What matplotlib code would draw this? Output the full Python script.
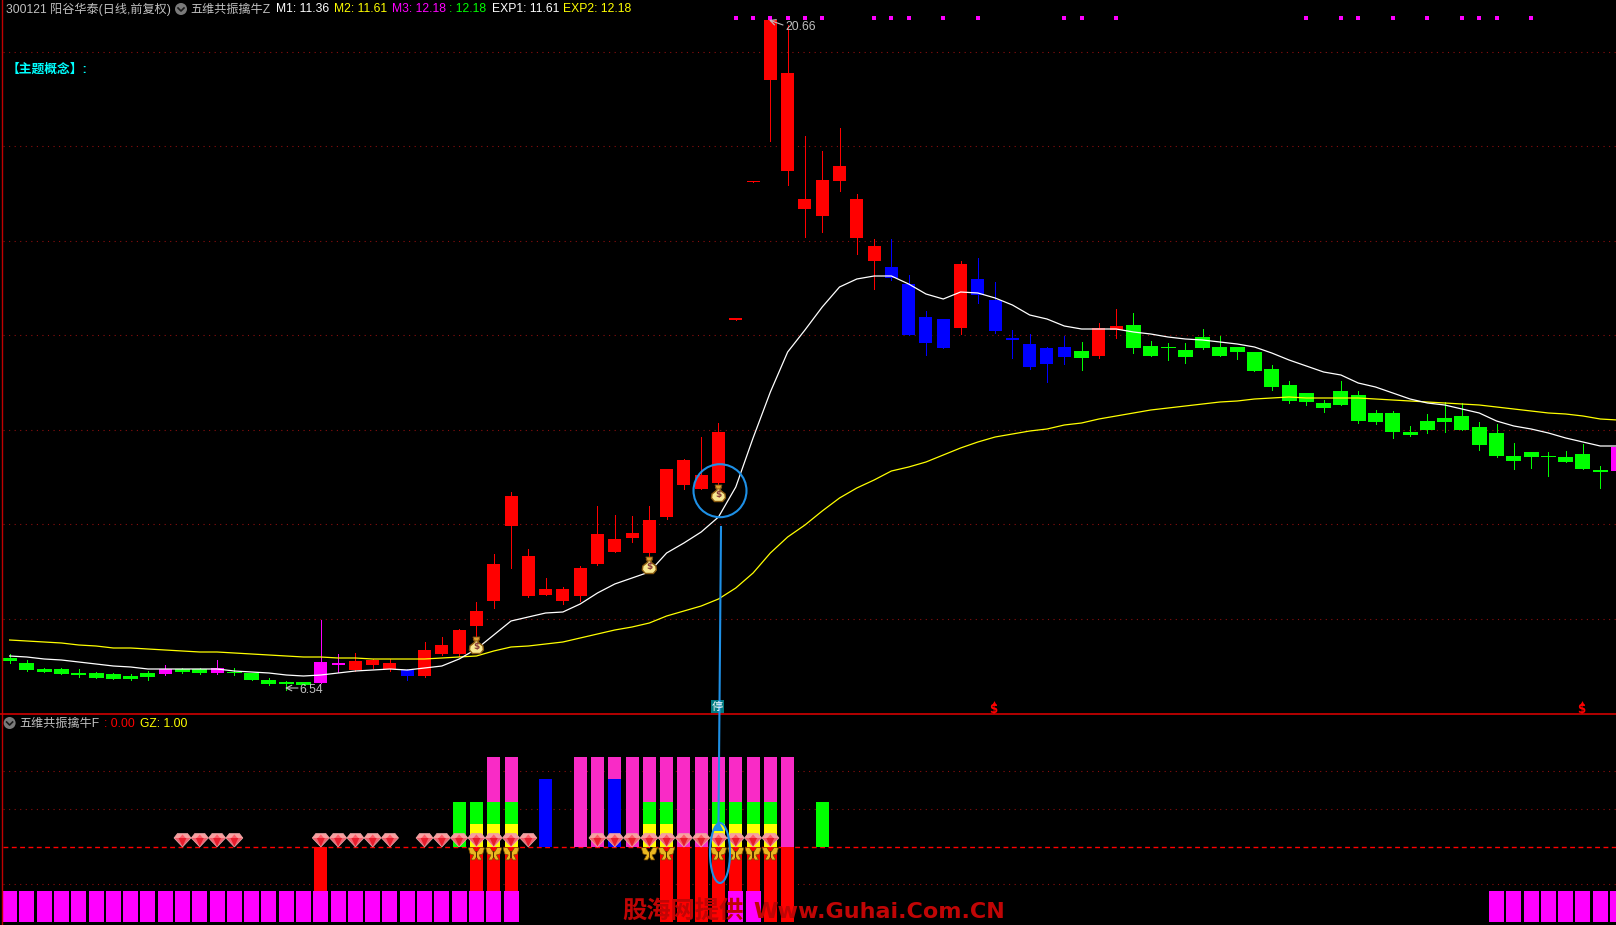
#coding=utf-8
import matplotlib
matplotlib.use('Agg')
import matplotlib.pyplot as plt
from matplotlib.patches import Circle, Ellipse, Polygon, Rectangle
from matplotlib.transforms import Affine2D

# the picture has no price axis, so candle levels are read as screen rows (top = 0)
bar_colors = ('gggggggggmggmgggggmmrrrb' + 'rrrrrrrrrrrrrrrrrrrrrrrrrrr' + 'bbbb' + 'r'
              + 'bbbbbb' + 'g' + 'rr' + 'gggggggggggggggggggggggggggg' + 'm')
body_top = [658, 663, 669, 669, 673, 673, 674, 676, 673, 669, 669, 669, 668, 672, 673, 680, 682, 682, 662, 663,
            661, 660, 663, 670, 650, 645, 630, 611, 564, 496, 556, 589, 589, 568, 534, 539, 533, 520, 469, 460,
            475, 432, 318, 181, 20, 73, 199, 180, 166, 199, 246, 267, 284, 317, 319, 264, 279, 300, 338, 344,
            348, 347, 351, 328, 326, 325, 346, 347, 350, 337, 347, 347, 352, 369, 385, 393, 403, 391, 395, 413,
            413, 432, 421, 418, 416, 427, 433, 456, 452, 456, 457, 454, 470, 447]
body_bot = [661, 670, 672, 674, 675, 678, 679, 679, 677, 674, 672, 673, 673, 673, 680, 684, 684, 685, 683, 665,
            670, 665, 669, 676, 676, 654, 654, 626, 601, 526, 596, 595, 601, 596, 564, 552, 538, 553, 517, 485,
            489, 483, 320, 182, 80, 171, 209, 216, 181, 238, 261, 278, 335, 343, 348, 328, 295, 331, 340, 367,
            364, 357, 358, 356, 330, 348, 356, 348, 357, 348, 356, 352, 371, 387, 401, 402, 408, 405, 421, 422,
            432, 435, 430, 422, 430, 445, 456, 461, 457, 457, 462, 469, 472, 471]
wick_top = [654, 660, 668, 668, 669, 672, 673, 674, 671, 665, 668, 668, 660, 668, 673, 678, 681, 682, 620, 654,
            653, 659, 659, 669, 642, 637, 629, 602, 554, 492, 549, 578, 587, 566, 506, 515, 516, 506, 469, 459,
            437, 423, 318, 181, 20, 25, 136, 151, 128, 194, 239, 239, 275, 311, 319, 261, 258, 282, 330, 334,
            347, 336, 342, 323, 309, 313, 341, 343, 343, 329, 336, 347, 352, 365, 381, 393, 400, 381, 391, 410,
            411, 426, 414, 402, 403, 422, 424, 443, 452, 452, 451, 444, 466, 447]
wick_bot = [663, 671, 672, 674, 677, 678, 679, 680, 680, 675, 673, 674, 674, 675, 680, 685, 690, 685, 683, 672,
            671, 668, 671, 680, 677, 655, 656, 640, 608, 568, 597, 595, 604, 601, 565, 552, 542, 557, 519, 489,
            489, 486, 320, 182, 141, 185, 237, 232, 191, 254, 289, 280, 335, 355, 348, 334, 303, 333, 358, 369,
            382, 364, 370, 358, 338, 353, 356, 360, 363, 349, 356, 359, 371, 390, 403, 405, 412, 405, 423, 424,
            438, 436, 433, 432, 430, 450, 457, 469, 468, 476, 462, 469, 488, 471]
m1_line = [656, 657, 659, 660, 662, 664, 666, 667, 669, 669, 669, 669, 669, 671, 672, 673, 675, 676, 675, 673,
           671, 670, 669, 670, 668, 666, 659, 649, 635, 621, 617, 613, 612, 604, 593, 584, 578, 572, 553, 543,
           532, 517, 487, 438, 392, 352, 330, 307, 287, 279, 276, 276, 284, 294, 299, 292, 293, 298, 305, 315,
           319, 326, 329, 329, 329, 332, 334, 337, 339, 340, 342, 344, 347, 353, 360, 366, 372, 375, 383, 387,
           393, 399, 403, 405, 409, 413, 421, 426, 429, 433, 438, 442, 446, 446]
exp_line = [640, 641, 642, 643, 645, 646, 648, 648, 649, 650, 651, 652, 652, 653, 654, 655, 656, 657, 657, 658,
            658, 659, 659, 659, 659, 658, 657, 656, 651, 647, 646, 644, 642, 638, 634, 630, 627, 623, 616, 611,
            606, 599, 588, 573, 553, 537, 525, 511, 498, 488, 480, 471, 467, 462, 455, 448, 442, 437, 434, 431,
            429, 425, 423, 419, 416, 413, 410, 408, 406, 404, 402, 401, 399, 398, 397, 398, 398, 398, 398, 399,
            400, 401, 402, 403, 404, 405, 407, 409, 411, 413, 414, 416, 419, 420]
top_dots = [42, 43, 44, 45, 46, 47, 50, 51, 52, 54, 56, 61, 62, 64, 75, 77, 78, 80, 82, 84, 85, 86, 88]
bag_idx = [27, 37, 41]
bag_level = [645, 565, 493]

# lower panel, bars in signal levels
base_idx = list(range(0, 30)) + [42, 43] + list(range(86, 94))
red_idx = [18, 27, 28, 29, 38, 39, 40, 41, 42, 43, 44, 45]
pink_idx = [28, 29, 33, 34, 35, 36, 37, 38, 39, 40, 41, 42, 43, 44, 45]
blue_idx = [31, 35]
green_idx = [26, 27, 28, 29, 37, 38, 41, 42, 43, 44, 47]
yellow_idx = [27, 28, 29, 37, 38, 41, 42, 43, 44]
gem_idx = [10, 11, 12, 13, 18, 19, 20, 21, 22, 24, 25, 26, 27, 28, 29, 30,
           34, 35, 36, 37, 38, 39, 40, 41, 42, 43, 44]
fly_idx = [27, 28, 29, 37, 38, 41, 42, 43, 44]
pink_top, blue_top, green_top, yellow_top = 4.0, 3.0, 2.0, 1.0
base_top, panel_floor = -1.98, -3.36
gem_level, fly_level = 0.29, -0.33

main_grid = [51.7, 146.3, 241.3, 335.3, 430.3, 524.3, 619.3]
sub_grid = [3.36, 1.65, -1.68]

CJK = ['Liberation Sans', 'Noto Sans CJK SC']
RED, GREEN, BLUE, MAGENTA, YELLOW = '#ff0000', '#00ff00', '#0000ff', '#ff00ff', '#ffff00'
PINK = '#f92bc6'
NOTE_BLUE = '#1e90e6'
color_map = {'r': RED, 'g': GREEN, 'b': BLUE, 'm': MAGENTA}

W, H = 1616, 925
SPLIT = 714
STEP = 17.29
fig = plt.figure(figsize=(W / 100, H / 100), dpi=100, facecolor='black')
ax = fig.add_axes([0, (H - SPLIT) / H, 1, SPLIT / H])
sub = fig.add_axes([0, 0, 1, (H - SPLIT) / H])
over = fig.add_axes([0, 0, 1, 1], zorder=5)
over.patch.set_alpha(0)
for a in (ax, sub, over):
    a.set_axis_off() if a is over else a.set_facecolor('black')
    a.set_xticks([])
    a.set_yticks([])
    for s in a.spines.values():
        s.set_visible(False)
xlim = (-9.6 / STEP, (W - 9.6) / STEP)
grid_start = -6.6 / STEP
ax.set_xlim(xlim)
ax.set_ylim(SPLIT, 0)
sub.set_xlim(xlim)
sub.set_ylim((846.5 - H) / 22.5, (846.5 - SPLIT) / 22.5)
over.set_xlim(0, W)
over.set_ylim(H, 0)


def stamp(a, x, y, shapes):
    # small icons keep a fixed pixel size, anchored at a data point
    px, py = a.transData.transform((x, y))
    tf = Affine2D().translate(px, py)
    for verts, fc, ec, lw in shapes:
        a.add_patch(Polygon(verts, closed=True, transform=tf, facecolor=fc, edgecolor=ec,
                            linewidth=lw, zorder=8, clip_on=False))


GEM = [([(-8.5, 2), (-5, 6.5), (5, 6.5), (8.5, 2), (0, -7)], '#f2606e', '#e8b0b0', 0.5),
       ([(-8.5, 2), (-5, 6), (5, 6), (8.5, 2)], '#f8a0a0', 'none', 0),
       ([(-3, 2), (0, 5.5), (3, 2)], '#ff5a68', 'none', 0),
       ([(-4, 2), (4, 2), (0, -6.5)], '#e81c2c', 'none', 0)]
FLY = [([(-8, 6), (-3.6, 6.5), (-0.8, 2), (0.8, 2), (3.6, 6.5), (8, 6), (6.3, 0), (2.7, -1), (5.4, -6), (1.8, -6),
         (0, -3), (-1.8, -6), (-5.4, -6), (-2.7, -1), (-6.3, 0)], '#eab820', '#7a4a00', 0.5),
       ([(-0.6, -4), (0.6, -4), (0.6, 3), (-0.6, 3)], '#5a2c00', 'none', 0)]
BAG = [([(-3, 6), (3, 6), (1.5, 3), (6.5, -1), (7, -5), (4, -8.5), (-4, -8.5), (-7, -5), (-6.5, -1), (-1.5, 3)],
        '#f8e890', '#8a5a10', 1.0),
       ([(-3.5, 8), (3.5, 8), (2, 4), (-2, 4)], '#d8a030', '#7a4a10', 0.6)]

# main panel
n = len(body_top)
idx = list(range(n))
for y in main_grid:
    ax.plot([grid_start, xlim[1]], [y, y], color='#8c0f0f', lw=0.8, ls=(0, (1, 4)), zorder=1)
colors = [color_map[c] for c in bar_colors]
widths = [(15 if c == 'g' else 13) / STEP for c in bar_colors]
ax.vlines(idx, wick_top, wick_bot, colors=colors, linewidth=0.55, antialiased=False, zorder=2)
ax.bar(idx, [b - t for t, b in zip(body_top, body_bot)], bottom=body_top, width=widths,
       color=colors, antialiased=False, zorder=3)
ax.plot(idx, exp_line, color=YELLOW, lw=0.9, zorder=4)
ax.plot(idx, m1_line, color='white', lw=0.9, zorder=4)
ax.scatter(top_dots, [18] * len(top_dots), marker='s', s=8.5, color=MAGENTA, linewidths=0, zorder=4)
for i, y in zip(bag_idx, bag_level):
    stamp(ax, i, y, BAG)
    ax.text(i, y + 1.5, '$', color='#8a3a3a', fontsize=6.5, fontweight='bold', ha='center', va='center', zorder=9)

# lower panel
wide = 15 / STEP
thin = 13 / STEP
sub.plot([grid_start, xlim[1]], [0, 0], color=RED, lw=1, ls=(0, (3.5, 2.5)), zorder=1)
for y in sub_grid:
    sub.plot([grid_start, xlim[1]], [y, y], color='#8c0f0f', lw=0.8, ls=(0, (1, 4)), zorder=1)
sub.bar(red_idx, [panel_floor] * len(red_idx), width=thin, color=RED, antialiased=False, zorder=2)
sub.bar(pink_idx, [pink_top] * len(pink_idx), width=thin, color=PINK, antialiased=False, zorder=2)
sub.bar(blue_idx, [blue_top] * len(blue_idx), width=thin, color=BLUE, antialiased=False, zorder=3)
sub.bar(green_idx, [green_top] * len(green_idx), width=thin, color=GREEN, antialiased=False, zorder=4)
sub.bar(yellow_idx, [yellow_top] * len(yellow_idx), width=thin, color=YELLOW, antialiased=False, zorder=5)
sub.bar(base_idx, [panel_floor - base_top] * len(base_idx), bottom=base_top, width=wide, color=MAGENTA,
        antialiased=False, zorder=6)
for i in gem_idx:
    stamp(sub, i, gem_level, GEM)
for i in fly_idx:
    stamp(sub, i, fly_level, FLY)

# frame
over.plot([1.5, 1.5], [0, H], color='#c00000', lw=1)
over.plot([0, W], [SPLIT, SPLIT], color='#d00000', lw=1.2)


def label(x, y, s, color, size=8.7, **kw):
    over.text(x, y, s, color=color, fontsize=size, family=CJK, va='center', ha='left', **kw)


def fold_icon(x, y):
    over.add_patch(Circle((x, y), 6, facecolor='#7a7a7a', edgecolor='none'))
    over.plot([x - 3, x, x + 3], [y - 1, y + 2, y - 1], color='#1a1a1a', lw=1.2)


# header texts
label(6, 9.5, '300121 阳谷华泰(日线,前复权)', '#c0c0c0')
fold_icon(181, 9)
label(190.5, 9.5, '五维共振擒牛Z', '#c0c0c0')
label(275.5, 9.5, 'M1: 11.36', 'white')
label(333.5, 9.5, 'M2: 11.61', YELLOW)
label(392, 9.5, 'M3: 12.18', MAGENTA)
label(449, 9.5, ': 12.18', GREEN)
label(492, 9.5, 'EXP1: 11.61', 'white')
label(563, 9.5, 'EXP2: 12.18', YELLOW)
label(7, 70, '【主题概念】:', '#00ffff', size=9.2, fontweight='bold')
fold_icon(9.6, 723)
label(19.5, 724, '五维共振擒牛F', '#c0c0c0')
label(104, 724, ': 0.00', RED)
label(140, 724, 'GZ: 1.00', YELLOW)

# extreme price labels
label(785, 27, '20.66', '#c0c0c0')
over.annotate('', xy=(769, 20), xytext=(783, 25), arrowprops=dict(arrowstyle='->', color='#c0c0c0', lw=0.8, shrinkA=0, shrinkB=0))
label(299.5, 690, '6.54', '#c0c0c0')
over.annotate('', xy=(285, 688), xytext=(298, 688), arrowprops=dict(arrowstyle='->', color='#c0c0c0', lw=0.8, shrinkA=0, shrinkB=0))

# hand drawn notes on the screenshot
over.add_patch(Circle((720, 490.7), 26.5, fill=False, edgecolor=NOTE_BLUE, lw=1.5))
over.add_patch(Ellipse((720, 853), 20, 60, fill=False, edgecolor=NOTE_BLUE, lw=1.5))
over.plot([721, 718.5], [527, 823], color=NOTE_BLUE, lw=1.5)
over.add_patch(Polygon([(718.5, 821), (713.5, 831), (723.5, 831)], closed=True, facecolor=NOTE_BLUE, edgecolor='none'))
over.add_patch(Rectangle((711, 700), 13, 13, facecolor='#007a80', edgecolor='none'))
over.text(717.5, 706.5, '停', color='white', fontsize=8, family=CJK, ha='center', va='center')

# limit markers above the split line
for x in [993.5, 1581.5]:
    over.text(x, 709, '$', color=RED, fontsize=8.5, fontweight='bold', family='DejaVu Sans', ha='center', va='center')
    over.plot([x], [703], marker='^', ms=3.5, color=RED, mew=0)

# watermark
over.text(622, 912, '股海网提供', color='#c00505', fontsize=17.5, fontweight='bold',
          family='Noto Sans CJK SC', ha='left', va='center')
over.text(753, 912, 'Www.Guhai.Com.CN', color='#c00505', fontsize=16, fontweight='bold',
          family='DejaVu Sans', ha='left', va='center')

plt.savefig('out.png', facecolor='black')
plt.close(fig)
